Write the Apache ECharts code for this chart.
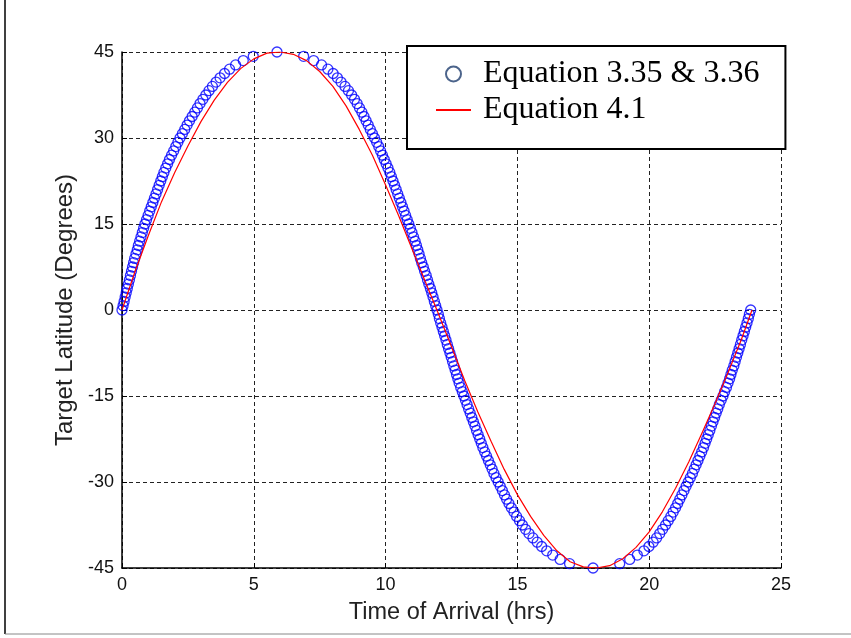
<!DOCTYPE html>
<html>
<head>
<meta charset="utf-8">
<script src="https://cdn.jsdelivr.net/npm/echarts@6/dist/echarts.min.js"></script>
<style>
    html, body { margin: 0; padding: 0; background: #fff; }
    #chart { width: 851px; height: 638px; }
</style>
</head>
<body>
<div id="chart"></div>
<script>
var xTicks = [0, 5, 10, 15, 20, 25];
var yTicks = [-45, -30, -15, 0, 15, 30, 45];

/* Equation 3.35 & 3.36: [time (hrs), latitude (deg)] */
var circlesQ1 = [[0.00,0],[0.04,0.75],[0.08,1.5],[0.12,2.25],[0.16,3],[0.20,3.75],[0.24,4.5],[0.28,5.25],[0.32,6],[0.36,6.75],
    [0.40,7.5],[0.44,8.25],[0.48,9],[0.53,9.75],[0.58,10.5],[0.62,11.25],[0.67,12],[0.72,12.75],[0.77,13.5],[0.82,14.25],
    [0.87,15],[0.93,15.75],[0.99,16.5],[1.05,17.25],[1.11,18],[1.17,18.75],[1.23,19.5],[1.29,20.25],[1.35,21],[1.41,21.75],
    [1.47,22.5],[1.53,23.25],[1.59,24],[1.66,24.75],[1.73,25.5],[1.80,26.25],[1.88,27],[1.96,27.75],[2.04,28.5],[2.12,29.25],
    [2.20,30],[2.29,30.75],[2.38,31.5],[2.47,32.25],[2.56,33],[2.66,33.75],[2.76,34.5],[2.86,35.25],[2.96,36],[3.07,36.75],
    [3.18,37.5],[3.30,38.25],[3.43,39],[3.57,39.75],[3.72,40.5],[3.89,41.25],[4.08,42],[4.31,42.75],[4.60,43.5],[4.98,44.25],
    [5.88,45]];
var circlesQ2 = [[6.89,44.25],[7.27,43.5],[7.57,42.75],[7.81,42],[8.01,41.25],[8.17,40.5],[8.31,39.75],[8.46,39],[8.59,38.25],[8.71,37.5],
    [8.82,36.75],[8.92,36],[9.01,35.25],[9.10,34.5],[9.18,33.75],[9.26,33],[9.34,32.25],[9.42,31.5],[9.50,30.75],[9.58,30],
    [9.66,29.25],[9.74,28.5],[9.81,27.75],[9.88,27],[9.95,26.25],[10.02,25.5],[10.09,24.75],[10.16,24],[10.22,23.25],[10.28,22.5],
    [10.34,21.75],[10.40,21],[10.46,20.25],[10.52,19.5],[10.58,18.75],[10.64,18],[10.70,17.25],[10.76,16.5],[10.82,15.75],[10.88,15],
    [10.94,14.25],[11.00,13.5],[11.06,12.75],[11.12,12],[11.17,11.25],[11.22,10.5],[11.27,9.75],[11.32,9],[11.37,8.25],[11.43,7.5],
    [11.48,6.75],[11.54,6],[11.59,5.25],[11.64,4.5],[11.70,3.75],[11.75,3],[11.80,2.25],[11.85,1.5],[11.90,0.75],[11.95,0]];
var circlesQ3 = [[12.00,-0.75],[12.04,-1.5],[12.09,-2.25],[12.14,-3],[12.19,-3.75],[12.24,-4.5],[12.29,-5.25],[12.34,-6],[12.39,-6.75],[12.44,-7.5],
    [12.49,-8.25],[12.54,-9],[12.59,-9.75],[12.64,-10.5],[12.69,-11.25],[12.74,-12],[12.79,-12.75],[12.85,-13.5],[12.91,-14.25],[12.97,-15],
    [13.03,-15.75],[13.09,-16.5],[13.15,-17.25],[13.21,-18],[13.27,-18.75],[13.33,-19.5],[13.39,-20.25],[13.45,-21],[13.51,-21.75],[13.57,-22.5],
    [13.63,-23.25],[13.69,-24],[13.76,-24.75],[13.83,-25.5],[13.90,-26.25],[13.97,-27],[14.04,-27.75],[14.11,-28.5],[14.19,-29.25],[14.27,-30],
    [14.35,-30.75],[14.43,-31.5],[14.51,-32.25],[14.59,-33],[14.68,-33.75],[14.77,-34.5],[14.87,-35.25],[14.97,-36],[15.08,-36.75],[15.19,-37.5],
    [15.31,-38.25],[15.44,-39],[15.59,-39.75],[15.75,-40.5],[15.92,-41.25],[16.11,-42],[16.34,-42.75],[16.62,-43.5],[16.98,-44.25],[17.87,-45]];
var circlesQ4 = [[18.88,-44.25],[19.26,-43.5],[19.55,-42.75],[19.80,-42],[19.99,-41.25],[20.15,-40.5],[20.28,-39.75],[20.40,-39],[20.51,-38.25],[20.62,-37.5],
    [20.72,-36.75],[20.82,-36],[20.91,-35.25],[21.00,-34.5],[21.08,-33.75],[21.16,-33],[21.24,-32.25],[21.32,-31.5],[21.40,-30.75],[21.48,-30],
    [21.56,-29.25],[21.64,-28.5],[21.71,-27.75],[21.78,-27],[21.85,-26.25],[21.92,-25.5],[21.99,-24.75],[22.06,-24],[22.12,-23.25],[22.18,-22.5],
    [22.24,-21.75],[22.30,-21],[22.36,-20.25],[22.42,-19.5],[22.48,-18.75],[22.54,-18],[22.60,-17.25],[22.66,-16.5],[22.73,-15.75],[22.80,-15],
    [22.86,-14.25],[22.93,-13.5],[22.99,-12.75],[23.05,-12],[23.10,-11.25],[23.15,-10.5],[23.21,-9.75],[23.26,-9],[23.31,-8.25],[23.36,-7.5],
    [23.41,-6.75],[23.46,-6],[23.51,-5.25],[23.56,-4.5],[23.61,-3.75],[23.66,-3],[23.71,-2.25],[23.76,-1.5],[23.80,-0.75],[23.85,0]];

/* Equation 4.1 */
var lineTime = [0, 0.5, 1, 1.5, 2, 2.5, 3, 3.5, 4, 4.5, 5, 5.5, 6, 6.5, 7, 7.5, 8, 8.5, 9, 9.5, 10, 10.5, 11, 11.5,
    12, 12.5, 13, 13.5, 14, 14.5, 15, 15.5, 16, 16.5, 17, 17.5, 18, 18.5, 19, 19.5, 20, 20.5, 21, 21.5, 22, 22.5, 23, 23.5, 23.9];
var lineLat = [0, 6.8, 13.0, 18.9, 24.0, 28.6, 32.9, 36.6, 39.7, 42.1, 43.8, 44.8, 45.0, 44.6, 43.5, 41.6, 39.0, 35.6, 31.5, 27.0,
    21.8, 16.4, 10.7, 5.0, -0.6, -6.4, -12.3, -17.8, -22.9, -27.8, -32.2, -36.0, -39.3, -42.0, -43.9, -44.8, -45.0, -44.6, -43.4,
    -41.4, -38.7, -35.2, -31.1, -26.5, -21.5, -16.3, -10.8, -5.1, 0];

var circleName = 'Equation 3.35 & 3.36';
var lineName = 'Equation 4.1';

var circleData = circlesQ1.concat(circlesQ2, circlesQ3, circlesQ4);
var lineData = [];
for (var i = 0; i < lineTime.length; i++) {
    lineData.push([lineTime[i], lineLat[i]]);
}

var chart = echarts.init(document.getElementById('chart'), null, { renderer: 'canvas' });

var sansFont = 'Liberation Sans, Arial, sans-serif';
var gridLine = { show: true, lineStyle: { color: '#222', width: 1, type: [4, 3] } };

var option = {
    backgroundColor: '#fff',
    animation: false,
    grid: { left: 122, right: 70, top: 52, bottom: 70 },
    legend: {
        orient: 'vertical',
        left: 407,
        top: 46,
        padding: [10, 26, 21, 28],
        itemWidth: 35,
        itemHeight: 15,
        itemGap: 0,
        backgroundColor: '#fff',
        borderColor: '#000',
        borderWidth: 2,
        borderRadius: 0,
        textStyle: {
            fontFamily: 'Liberation Serif, Times New Roman, serif',
            fontSize: 32,
            lineHeight: 36,
            color: '#000',
            padding: [0, 0, 0, 7]
        },
        data: [
            { name: circleName, icon: 'circle', itemStyle: { color: 'rgba(0,0,0,0)', borderColor: '#1f3d6e', borderWidth: 2 } },
            { name: lineName, itemStyle: { opacity: 0 } }
        ]
    },
    xAxis: {
        type: 'value',
        min: xTicks[0],
        max: xTicks[xTicks.length - 1],
        interval: 5,
        name: 'Time of Arrival (hrs)',
        nameLocation: 'middle',
        nameGap: 33,
        nameTextStyle: { fontFamily: sansFont, fontSize: 23.5, color: '#222' },
        axisLine: { show: true, onZero: false, lineStyle: { color: '#000', width: 1.5 } },
        axisTick: { show: true, inside: true, length: 5, lineStyle: { color: '#000' } },
        axisLabel: { fontFamily: sansFont, fontSize: 18, color: '#111', margin: 8 },
        splitLine: gridLine
    },
    yAxis: {
        type: 'value',
        min: yTicks[0],
        max: yTicks[yTicks.length - 1],
        interval: 15,
        name: 'Target Latitude (Degrees)',
        nameLocation: 'middle',
        nameRotate: 90,
        nameGap: 45,
        nameTextStyle: { fontFamily: sansFont, fontSize: 24, color: '#222' },
        axisLine: { show: true, onZero: false, lineStyle: { color: '#000', width: 1.5 } },
        axisTick: { show: true, inside: true, length: 5, lineStyle: { color: '#000' } },
        axisLabel: { fontFamily: sansFont, fontSize: 18, color: '#111', margin: 8 },
        splitLine: gridLine
    },
    series: [{
        name: circleName,
        type: 'scatter',
        symbol: 'circle',
        symbolSize: 10,
        itemStyle: { color: 'rgba(0,0,0,0)', borderColor: '#0000ff', borderWidth: 1.3 },
        emphasis: { disabled: true },
        data: circleData,
        z: 2
    }, {
        name: lineName,
        type: 'line',
        symbol: 'none',
        lineStyle: { color: '#ff0000', width: 1.2 },
        itemStyle: { color: '#ff0000' },
        data: lineData,
        z: 3
    }],
    graphic: [{
        type: 'line',
        shape: { x1: 5, y1: 0, x2: 5, y2: 634 },
        style: { stroke: '#000', lineWidth: 1.5 }
    }, {
        type: 'line',
        shape: { x1: 5, y1: 634, x2: 851, y2: 634 },
        style: { stroke: '#888', lineWidth: 1 }
    }]
};

chart.setOption(option);
</script>
</body>
</html>
